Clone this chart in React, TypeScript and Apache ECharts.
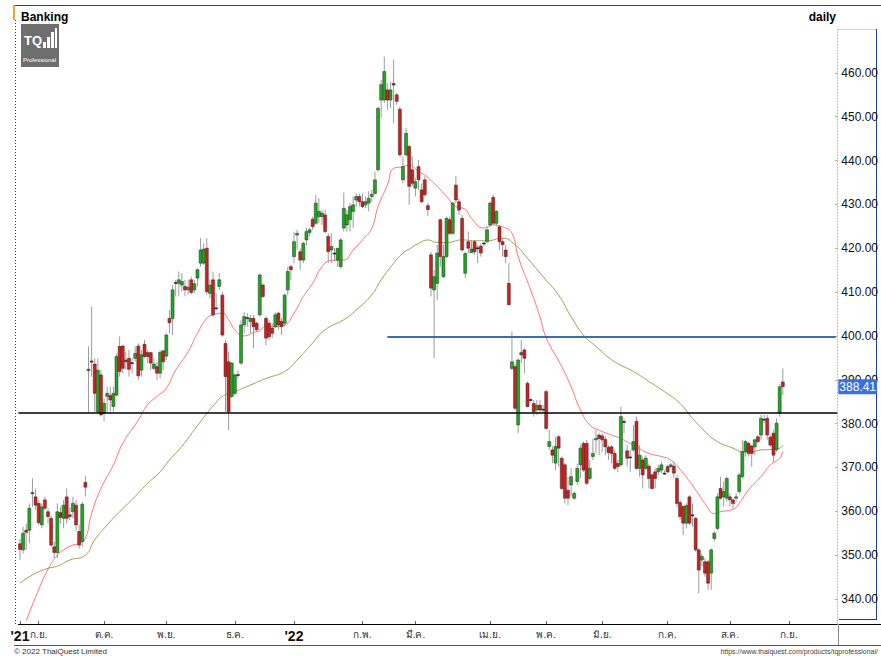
import React, { useEffect, useRef } from "react";
import * as echarts from "echarts";

const FONT = "'Liberation Sans', Arial, sans-serif";

// Daily candles, each row: [open, high, low, close]
const candlesSep21: number[][] = [
  [352.6, 353.8, 348.9, 351.3], [351.2, 356.5, 350.4, 355.0], [355.7, 357.2, 351.2, 355.2], [355.7, 361.8, 352.7, 360.7],
  [364.3, 367.5, 361.0, 364.0], [363.3, 365.2, 360.3, 361.4], [361.8, 362.6, 356.9, 357.4], [356.9, 361.8, 356.1, 361.0],
  [362.6, 363.3, 360.3, 360.7], [359.9, 360.7, 357.2, 358.8], [358.4, 359.1, 351.9, 352.3], [351.9, 353.1, 349.3, 350.6],
  [350.6, 361.8, 349.3, 359.9], [359.7, 361.0, 357.2, 358.6], [358.4, 362.6, 356.1, 361.4], [363.3, 365.2, 357.2, 358.4],
  [359.2, 361.0, 358.0, 358.8], [359.9, 363.3, 358.4, 361.8], [361.4, 362.6, 355.5, 356.9], [355.4, 357.0, 351.5, 352.3],
  [353.1, 362.2, 352.0, 361.6], [366.6, 368.1, 363.4, 365.5],
];
const candlesOctNov21: number[][] = [
  [392.4, 397.6, 382.4, 392.1], [394.3, 406.7, 390.7, 394.0], [393.6, 394.9, 382.7, 386.9], [382.7, 394.9, 382.3, 392.2],
  [391.1, 392.2, 381.6, 382.0], [382.4, 385.8, 380.5, 384.6], [386.2, 388.4, 382.7, 386.9], [386.4, 388.4, 382.7, 385.4],
  [383.9, 388.4, 382.7, 386.9], [386.5, 396.0, 386.2, 395.3], [397.6, 399.9, 390.7, 391.9], [397.7, 398.0, 391.5, 392.6],
  [394.5, 396.4, 392.2, 394.1], [394.9, 396.8, 390.7, 392.4], [393.9, 394.9, 391.5, 393.7], [394.9, 397.6, 394.1, 396.0],
  [397.7, 398.3, 390.0, 390.9], [392.2, 396.8, 390.7, 395.7], [398.1, 399.1, 394.9, 395.3], [396.2, 396.8, 393.8, 395.3],
  [396.2, 396.4, 392.2, 393.8], [392.6, 394.9, 392.2, 393.6], [393.0, 394.1, 390.0, 391.5], [391.5, 396.8, 390.3, 396.2],
  [396.6, 396.8, 392.2, 394.1], [395.4, 400.6, 394.5, 400.2], [404.0, 405.9, 400.6, 403.0], [404.0, 411.6, 400.2, 410.5],
  [412.0, 412.8, 409.0, 412.2], [412.0, 414.7, 409.0, 412.8], [411.6, 414.3, 410.1, 412.4], [411.3, 412.8, 409.0, 410.5],
  [410.5, 412.8, 409.4, 411.1], [412.8, 413.5, 409.4, 409.9], [410.5, 412.8, 409.7, 411.9], [413.2, 415.4, 411.3, 415.1],
  [416.6, 422.3, 415.8, 419.6], [416.6, 421.1, 416.2, 419.8], [420.0, 422.3, 409.4, 410.1], [409.7, 412.8, 408.6, 411.6],
];
const candlesDec21Feb22: number[][] = [
  [412.8, 414.7, 404.4, 404.8], [406.4, 409.7, 405.9, 406.2], [411.3, 414.3, 410.5, 412.8], [409.3, 410.1, 399.8, 400.2],
  [398.3, 399.1, 382.7, 390.7], [394.1, 396.4, 378.5, 382.7], [386.2, 394.1, 385.8, 393.8], [386.9, 391.5, 386.5, 391.1],
  [391.2, 392.2, 390.3, 391.1], [393.8, 403.6, 393.4, 402.5], [402.5, 405.5, 400.6, 404.4], [404.2, 405.2, 402.1, 404.0],
  [403.3, 404.8, 400.6, 404.0], [404.0, 404.8, 397.2, 402.1], [402.9, 403.3, 401.0, 401.4], [404.8, 414.3, 404.4, 413.9],
  [411.6, 412.0, 408.6, 409.0], [404.0, 404.4, 397.9, 399.5], [402.9, 403.6, 399.1, 399.8], [401.8, 402.9, 399.5, 400.6],
  [402.1, 405.5, 401.8, 404.8], [405.2, 405.5, 401.4, 402.5], [403.3, 404.0, 400.2, 402.1], [402.9, 409.7, 402.1, 409.3],
  [410.5, 415.8, 409.3, 414.7], [415.8, 416.2, 412.8, 415.1], [418.1, 423.8, 416.6, 421.5], [423.0, 424.2, 419.6, 423.4],
  [419.2, 420.0, 415.1, 417.3], [417.3, 421.5, 416.6, 421.1], [421.9, 424.6, 420.7, 423.8], [423.6, 424.6, 422.7, 424.2],
  [426.6, 427.2, 424.2, 424.9], [425.7, 432.2, 425.3, 430.3], [427.2, 431.4, 425.7, 428.4], [427.2, 428.8, 425.3, 428.0],
  [427.6, 428.8, 423.4, 423.8], [422.7, 423.4, 416.6, 419.2], [419.6, 423.4, 416.6, 420.4], [418.9, 420.0, 417.0, 418.8],
  [417.3, 420.0, 415.8, 420.0], [415.8, 422.3, 415.4, 421.9], [424.6, 432.7, 423.8, 429.1], [425.3, 428.8, 423.8, 427.6],
  [426.5, 430.3, 423.8, 429.5], [428.4, 431.8, 424.6, 429.9], [431.0, 432.5, 429.5, 431.8], [431.8, 432.5, 429.5, 430.6],
  [430.6, 432.5, 429.1, 429.5], [429.9, 431.8, 429.1, 430.6], [430.3, 433.0, 428.4, 431.4], [431.8, 433.3, 430.6, 432.3],
  [432.5, 437.5, 432.2, 435.6],
];
const candlesFebApr22: number[][] = [
  [437.9, 452.3, 437.5, 451.9], [453.8, 458.4, 449.7, 457.3], [453.8, 463.7, 453.1, 460.3], [456.1, 457.6, 451.6, 453.8],
  [453.8, 458.0, 452.0, 456.1], [457.6, 463.0, 448.5, 457.2], [455.0, 455.4, 452.7, 453.5], [451.7, 452.3, 440.9, 441.3],
  [435.6, 440.9, 434.8, 438.6], [441.3, 447.4, 440.9, 446.2], [443.2, 443.6, 429.9, 434.1], [437.9, 440.9, 434.1, 434.8],
  [433.7, 436.0, 431.8, 435.2], [438.6, 440.1, 433.3, 435.6], [433.3, 434.8, 430.3, 430.6], [435.6, 436.4, 431.8, 432.2],
  [429.7, 430.3, 427.4, 428.8], [418.5, 419.2, 409.0, 410.9], [410.5, 415.1, 394.9, 413.5], [412.0, 420.8, 408.2, 418.9],
  [426.5, 426.8, 415.8, 418.1], [413.5, 420.8, 413.2, 418.1], [418.1, 427.2, 417.7, 426.8], [426.5, 427.2, 423.0, 423.4],
  [423.4, 430.6, 423.0, 430.3], [434.4, 436.4, 430.3, 431.0], [430.6, 431.4, 427.6, 428.7], [426.8, 427.6, 419.2, 419.6],
  [414.3, 419.2, 413.2, 418.8], [421.5, 423.8, 418.8, 420.0], [419.0, 421.9, 418.9, 419.8], [421.5, 421.9, 418.5, 419.2],
  [420.0, 420.8, 416.6, 420.1], [420.5, 421.1, 418.1, 418.9], [421.2, 421.5, 420.4, 421.1], [421.5, 425.0, 421.1, 424.2],
  [425.3, 430.6, 424.9, 430.3], [431.6, 432.2, 425.3, 425.7], [425.7, 428.7, 425.0, 428.4], [424.9, 425.3, 419.6, 421.5],
  [421.5, 422.3, 418.1, 420.8], [419.6, 420.8, 416.6, 418.1], [412.0, 416.6, 407.1, 407.1],
];
const candlesMayJun22: number[][] = [
  [392.6, 401.0, 392.2, 394.1], [393.0, 393.7, 383.1, 383.5], [379.7, 394.9, 377.8, 394.5], [396.2, 399.1, 393.8, 395.7],
  [396.8, 397.2, 391.5, 394.9], [389.2, 389.6, 383.7, 383.9], [385.5, 385.8, 385.0, 385.4], [384.6, 385.4, 381.6, 382.7],
  [383.1, 385.4, 382.0, 384.2], [384.2, 385.4, 382.4, 383.1], [383.3, 384.2, 382.4, 383.2], [387.3, 387.7, 378.6, 378.9],
  [374.8, 378.6, 374.0, 375.9], [374.0, 374.8, 371.0, 372.8], [371.0, 377.0, 369.4, 374.8], [377.0, 377.4, 370.2, 374.4],
  [372.1, 372.5, 364.9, 365.2], [370.6, 371.0, 361.8, 363.0], [364.8, 367.9, 361.4, 363.0], [366.0, 369.8, 363.3, 367.9],
  [363.0, 364.5, 362.6, 364.1], [366.8, 370.9, 366.0, 369.8], [370.6, 375.1, 367.5, 374.4], [375.5, 375.9, 369.0, 369.4],
  [375.5, 376.3, 366.0, 366.4], [367.5, 371.7, 367.1, 369.8], [372.5, 376.6, 371.7, 373.2], [376.3, 378.6, 373.2, 376.6],
  [377.4, 377.8, 372.8, 376.6], [377.2, 377.8, 373.6, 376.3], [376.4, 377.0, 372.8, 374.7],
];
const candlesJunSep22: number[][] = [
  [374.6, 375.1, 371.7, 373.4], [374.7, 375.1, 371.0, 373.2], [373.2, 374.0, 369.4, 369.8], [370.9, 371.7, 369.0, 370.2],
  [370.6, 383.9, 370.2, 381.6], [380.5, 381.2, 377.8, 380.4], [373.8, 375.1, 370.2, 372.1], [372.4, 374.0, 369.0, 372.3],
  [374.0, 379.7, 373.6, 375.9], [380.5, 381.6, 369.4, 369.8], [369.8, 375.1, 367.9, 372.8], [371.7, 372.5, 365.2, 368.3],
  [369.8, 372.8, 369.4, 372.1], [370.3, 370.9, 365.2, 367.5], [368.3, 368.7, 365.0, 365.2], [369.0, 369.8, 365.2, 367.5],
  [369.0, 370.6, 368.3, 369.8], [369.4, 371.3, 368.7, 370.6], [368.7, 369.4, 368.3, 368.6], [370.2, 370.6, 368.7, 369.0],
  [370.2, 371.0, 369.8, 370.6], [370.3, 371.3, 367.5, 368.7], [367.5, 368.3, 361.0, 361.8], [362.0, 362.6, 358.0, 358.8],
  [361.1, 361.4, 354.6, 357.3], [357.3, 361.8, 356.1, 361.3], [363.3, 363.7, 356.9, 357.3], [359.2, 361.8, 356.5, 359.1],
  [358.4, 358.8, 350.8, 351.2], [351.2, 351.6, 341.3, 346.6], [348.9, 350.4, 347.4, 349.7], [348.5, 349.3, 345.1, 345.9],
  [348.5, 348.9, 342.1, 343.6], [345.9, 351.6, 342.1, 351.2], [353.8, 355.4, 353.1, 355.0], [356.1, 364.1, 355.7, 363.3],
  [365.2, 367.9, 362.6, 363.0], [363.3, 366.8, 361.1, 364.5], [363.0, 367.9, 362.2, 367.5], [363.3, 364.1, 361.1, 362.6],
  [362.6, 363.0, 360.7, 361.8], [363.0, 364.1, 362.2, 363.3], [364.5, 368.7, 364.1, 368.3], [367.9, 376.3, 367.5, 373.6],
  [373.6, 376.3, 372.5, 375.9], [375.5, 375.9, 372.5, 373.2], [374.9, 375.1, 370.2, 373.2], [374.7, 376.6, 372.8, 376.3],
  [377.0, 377.4, 375.5, 375.9], [377.4, 382.0, 376.3, 381.2], [381.0, 382.0, 380.1, 380.9], [381.2, 382.0, 376.3, 377.4],
  [376.9, 377.4, 374.7, 375.1], [377.8, 378.6, 371.3, 372.8], [374.0, 381.2, 373.6, 380.1], [382.4, 389.0, 381.6, 388.4],
  [389.5, 392.6, 386.5, 388.41],
];

// Moving averages: [candle index, value]
const maFast: number[][] = [
  [2, 335.0], [5, 340.4], [9, 346.8], [12, 350.0], [14, 351.2], [17, 352.3], [19, 352.7], [21, 353.8], [23, 359.5],
  [26, 365.2], [30, 370.6], [33, 375.5], [38, 380.8], [41, 384.3], [44, 386.2], [47, 388.1], [50, 392.2], [54, 396.4],
  [57, 400.6], [60, 404.0], [62, 404.8], [65, 405.2], [67, 403.7], [69, 401.4], [72, 400.0], [75, 400.8], [77, 401.2],
  [79, 402.3], [82, 402.1], [85, 402.5], [88, 405.2], [91, 409.0], [94, 412.0], [97, 415.8], [100, 417.2], [104, 417.3],
  [107, 419.6], [110, 421.9], [113, 424.6], [115, 429.5], [118, 434.4], [120, 438.2], [123, 438.6], [125, 439.0],
  [128, 437.5], [130, 436.7], [134, 434.1], [137, 431.8], [140, 429.5], [143, 428.9], [145, 426.8], [149, 424.6],
  [152, 425.3], [155, 424.9], [158, 423.4], [160, 418.1], [164, 410.5], [167, 404.4], [169, 399.6], [174, 393.0],
  [177, 388.4], [180, 383.1], [183, 379.7], [186, 378.5], [190, 377.4], [193, 376.6], [198, 374.7], [202, 373.2],
  [206, 372.5], [209, 371.7], [213, 368.7], [217, 364.9], [220, 361.8], [223, 359.5], [225, 359.9], [229, 360.5],
  [231, 361.8], [234, 364.9], [238, 367.9], [241, 370.6], [244, 372.1], [245, 373.6],
];
const maSlow: number[][] = [
  [0, 343.6], [4, 345.5], [9, 347.0], [12, 347.5], [16, 348.9], [21, 350.0], [24, 353.5], [28, 356.9], [32, 359.9],
  [37, 363.4], [41, 366.4], [45, 369.0], [48, 371.7], [52, 374.8], [56, 378.6], [60, 382.3], [62, 384.0], [65, 386.2],
  [69, 387.3], [74, 388.8], [79, 390.3], [85, 391.9], [89, 394.5], [93, 397.6], [98, 401.4], [104, 403.7], [108, 405.9],
  [113, 409.4], [116, 412.8], [120, 416.6], [123, 418.9], [125, 419.8], [128, 421.1], [131, 421.9], [134, 421.3],
  [137, 421.3], [142, 421.9], [146, 421.7], [150, 421.7], [155, 422.3], [159, 420.8], [163, 417.7], [168, 413.5],
  [173, 409.3], [177, 404.4], [181, 400.2], [185, 397.6], [191, 394.1], [197, 391.9], [202, 389.6], [207, 387.3],
  [212, 384.6], [216, 381.2], [220, 378.2], [224, 375.9], [229, 374.4], [232, 373.6], [235, 373.6], [238, 374.0],
  [241, 374.1], [244, 374.4], [245, 375.1],
];

const monthLabels: [number, string][] = [
  [0, "'21"], [6, "ก.ย."], [27, "ต.ค."], [47, "พ.ย."], [69, "ธ.ค."], [88, "'22"], [110, "ก.พ."],
  [127, "มี.ค."], [151, "เม.ย."], [169, "พ.ค."], [187, "มิ.ย."], [208, "ก.ค."], [228, "ส.ค."], [247, "ก.ย."],
];
const yTickLabels = [340, 350, 360, 370, 380, 390, 400, 410, 420, 430, 440, 450, 460];
const supportLevel = 382.4;
const resistanceLevel = 399.7;
const resistanceStartIndex = 118;
const lastPrice = 388.41;
const TOTAL_SLOTS = 263;

export default function App() {
  const ref = useRef<HTMLDivElement>(null);
  useEffect(() => {
    if (!ref.current) return;
    const chart = echarts.init(ref.current, undefined, { renderer: "svg" });
    const candles = [
      ...candlesSep21, ...candlesOctNov21, ...candlesDec21Feb22,
      ...candlesFebApr22, ...candlesMayJun22, ...candlesJunSep22,
    ];
    const candleData = candles.map((r, i) => [i, r[0], r[3], r[2], r[1]]);
    const categories = Array.from({ length: TOTAL_SLOTS }, (_, i) => String(i));
    const labelMap = new Map<number, string>(monthLabels);
    const isYear = (s: string) => s.startsWith("'");

    const option: any = {
      animation: false,
      backgroundColor: "#ffffff",
      textStyle: { fontFamily: FONT },
      grid: { left: 18.44, right: 42, top: 29, bottom: 32, containLabel: false },
      xAxis: {
        type: "category",
        data: categories,
        boundaryGap: true,
        axisLine: { show: true, lineStyle: { color: "#000", width: 1 } },
        axisTick: {
          show: true,
          inside: true,
          length: 3,
          alignWithLabel: true,
          interval: (i: number) => labelMap.has(i),
          lineStyle: { color: "#666" },
        },
        axisLabel: {
          interval: (i: number) => labelMap.has(i),
          margin: 5,
          formatter: (_v: string, i: number) => {
            const s = labelMap.get(i) || "";
            return isYear(s) ? `{y|${s}}` : `{m|${s}}`;
          },
          rich: {
            y: { fontFamily: FONT, fontSize: 14, fontWeight: "bold", color: "#111" },
            m: { fontFamily: FONT, fontSize: 10, color: "#333" },
          },
        },
        splitLine: { show: false },
      },
      yAxis: {
        type: "value",
        position: "right",
        min: 334.3,
        max: 470,
        scale: true,
        axisLine: { show: true, lineStyle: { color: "#c9b765", type: [1, 2], width: 1 } },
        axisTick: {
          show: true,
          inside: true,
          length: 2,
          customValues: yTickLabels,
          lineStyle: { color: "#b8a650" },
        },
        axisLabel: {
          customValues: yTickLabels,
          formatter: (v: number) => v.toFixed(2),
          fontFamily: FONT,
          fontSize: 12,
          color: "#111",
          margin: 4,
        },
        splitLine: { show: false },
      },
      series: [
        {
          type: "custom",
          name: "price",
          data: candleData,
          encode: { x: 0, y: [1, 2, 3, 4] },
          clip: true,
          renderItem: (_p: any, api: any) => {
            const i = api.value(0);
            const o = api.value(1);
            const c = api.value(2);
            const l = api.value(3);
            const h = api.value(4);
            const pO = api.coord([i, o]);
            const pC = api.coord([i, c]);
            const pL = api.coord([i, l]);
            const pH = api.coord([i, h]);
            const x = pO[0];
            const top = Math.min(pO[1], pC[1]);
            let hh = Math.abs(pO[1] - pC[1]);
            const doji = hh < 1.2;
            if (doji) hh = 1;
            const up = c >= o;
            return {
              type: "group",
              children: [
                {
                  type: "line",
                  shape: { x1: x, y1: pH[1], x2: x, y2: pL[1] },
                  style: { stroke: "#9b9b9b", lineWidth: 1 },
                },
                {
                  type: "rect",
                  shape: { x: x - 1.5, y: top, width: 3, height: hh },
                  style: {
                    fill: doji ? "#111" : up ? "#1fa81f" : "#cf1f1f",
                    stroke: "#2a2a2a",
                    lineWidth: 0.5,
                  },
                },
              ],
            };
          },
          z: 3,
        },
        {
          type: "line",
          name: "MA fast",
          data: maFast,
          smooth: true,
          showSymbol: false,
          symbol: "none",
          lineStyle: { color: "#ff5a5a", width: 1, opacity: 0.85 },
          z: 2,
          markLine: {
            silent: true,
            symbol: ["none", "none"],
            lineStyle: { color: "rgba(255,255,255,0)", width: 0 },
            label: {
              show: true,
              position: "end",
              distance: 1,
              formatter: lastPrice.toFixed(2),
              backgroundColor: "#3a6fe2",
              color: "#ffffff",
              fontFamily: FONT,
              fontSize: 12,
              padding: [2, 1, 1, 1],
            },
            data: [{ yAxis: lastPrice }],
          },
        },
        {
          type: "line",
          name: "MA slow",
          data: maSlow,
          smooth: true,
          showSymbol: false,
          symbol: "none",
          lineStyle: { color: "#9e9e55", width: 1 },
          z: 2,
          markLine: {
            silent: true,
            symbol: ["none", "none"],
            label: { show: false },
            data: [
              { yAxis: supportLevel, lineStyle: { color: "#000", width: 1.5, type: "solid" } },
              [
                { coord: [resistanceStartIndex, resistanceLevel], lineStyle: { color: "#3b6db4", width: 2, type: "solid" } },
                { coord: [TOTAL_SLOTS - 1, resistanceLevel] },
              ],
            ],
          },
        },
      ],
      graphic: [
        { type: "line", shape: { x1: 14, y1: 5.5, x2: 881, y2: 5.5 }, style: { stroke: "#444", lineWidth: 1 } },
        { type: "rect", shape: { x: 13, y: 5, width: 2, height: 15 }, style: { fill: "#f0a030" } },
        { type: "line", shape: { x1: 15.5, y1: 20, x2: 15.5, y2: 624 }, style: { stroke: "#333", lineWidth: 1, lineDash: [1, 2] } },
        {
          type: "text", x: 21, y: 11,
          style: { text: "Banking", font: `bold 12px ${FONT}`, fill: "#000" },
        },
        {
          type: "group", x: 21, y: 24,
          children: [
            { type: "rect", shape: { x: 0, y: 0, width: 38, height: 43 }, style: { fill: "#6e6e6e" } },
            { type: "text", x: 3, y: 10, style: { text: "TQ", font: `bold 13px ${FONT}`, fill: "#fff" } },
            { type: "rect", shape: { x: 22, y: 18, width: 3, height: 6 }, style: { fill: "#fff" } },
            { type: "rect", shape: { x: 26, y: 13, width: 3, height: 11 }, style: { fill: "#fff" } },
            { type: "rect", shape: { x: 30, y: 8, width: 3, height: 16 }, style: { fill: "#fff" } },
            { type: "rect", shape: { x: 34, y: 4, width: 2, height: 20 }, style: { fill: "#fff" } },
            { type: "text", x: 2, y: 33, style: { text: "Professional", font: `6px ${FONT}`, fill: "#fff" } },
          ],
        },
        {
          type: "text", x: 836, y: 11,
          style: { text: "daily", font: `bold 12px ${FONT}`, fill: "#000", textAlign: "right" },
        },
        { type: "line", shape: { x1: 838, y1: 29.5, x2: 876, y2: 29.5 }, style: { stroke: "#e6d68c", lineWidth: 1 } },
        { type: "line", shape: { x1: 876.5, y1: 29, x2: 876.5, y2: 619 }, style: { stroke: "#1d3e8e", lineWidth: 1 } },
        { type: "line", shape: { x1: 839, y1: 619.5, x2: 877, y2: 619.5 }, style: { stroke: "#1d3e8e", lineWidth: 1 } },
        { type: "line", shape: { x1: 838, y1: 624.5, x2: 881, y2: 624.5 }, style: { stroke: "#000", lineWidth: 1 } },
        { type: "line", shape: { x1: 838.5, y1: 624, x2: 838.5, y2: 645 }, style: { stroke: "#888", lineWidth: 1 } },
        { type: "line", shape: { x1: 14, y1: 645.5, x2: 881, y2: 645.5 }, style: { stroke: "#555", lineWidth: 1 } },
        {
          type: "text", x: 14, y: 647,
          style: { text: "© 2022 ThaiQuest Limited", font: `8px ${FONT}`, fill: "#333" },
        },
        {
          type: "text", x: 878, y: 648,
          style: { text: "https://www.thaiquest.com/products/tqprofessional/", font: `7px ${FONT}`, fill: "#444", textAlign: "right" },
        },
      ],
    };
    chart.setOption(option);
    return () => chart.dispose();
  }, []);
  return (
    <div
      ref={ref}
      style={{ position: "absolute", left: 0, top: 0, width: 881, height: 656, background: "#fff" }}
    />
  );
}
